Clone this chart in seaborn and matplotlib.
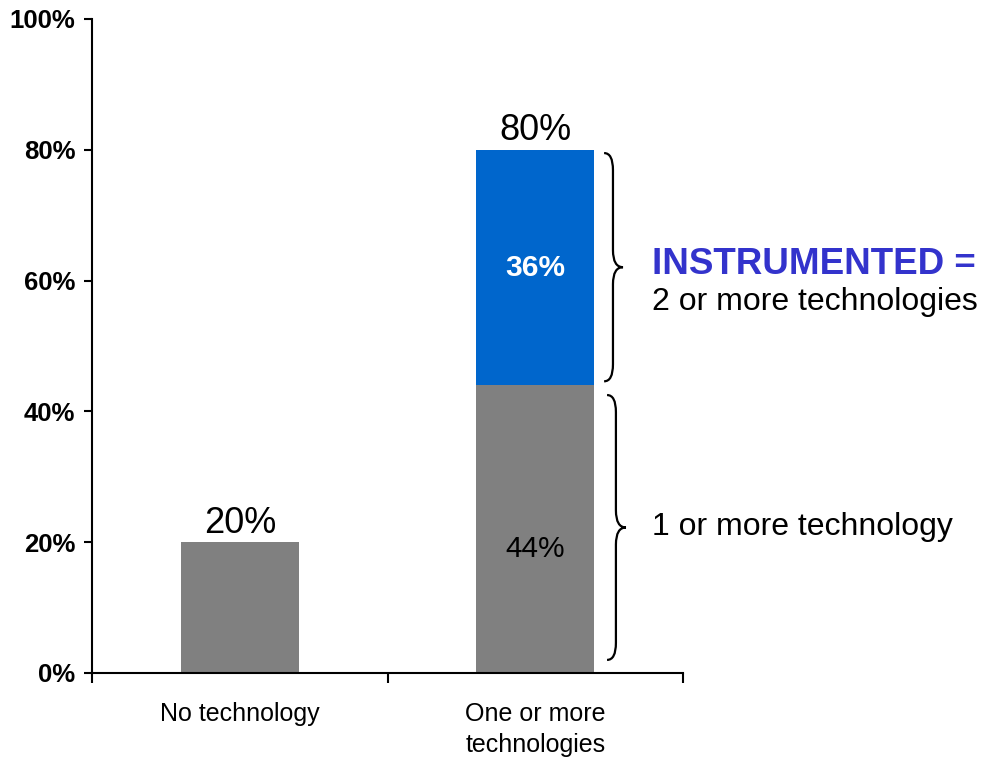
import matplotlib
matplotlib.use("Agg")
import matplotlib.pyplot as plt
from matplotlib.path import Path
from matplotlib.patches import PathPatch
import seaborn as sns

# Share of respondents by number of technologies used (percent)
categories = ["No technology", "One or more\ntechnologies"]
single_share = [20, 44]          # grey segment
instrumented_share = [0, 36]     # blue segment (2 or more technologies)
total_labels = ["20%", "80%"]
yticks = [0, 20, 40, 60, 80, 100]
ytick_labels = ["0%", "20%", "40%", "60%", "80%", "100%"]

GREY = "#808080"
BLUE = "#0066CC"
ACCENT = "#3333CC"

sns.set_style("white")
plt.rcParams["font.family"] = ["Liberation Sans", "DejaVu Sans"]
plt.rcParams["text.color"] = "black"
plt.rcParams["xtick.color"] = "black"
plt.rcParams["ytick.color"] = "black"
plt.rcParams["xtick.labelcolor"] = "black"
plt.rcParams["ytick.labelcolor"] = "black"

totals = [a + b for a, b in zip(single_share, instrumented_share)]

fig = plt.figure(figsize=(9.82, 7.65), dpi=100)
ax = fig.add_axes([92 / 982, 92 / 765, 591 / 982, 654 / 765])

# Stacked bars: full height first, then the lower segment over it
sns.barplot(x=categories, y=totals, hue=categories,
            palette=[GREY, BLUE], legend=False, width=0.4,
            saturation=1, linewidth=0, ax=ax)
sns.barplot(x=categories, y=single_share, color=GREY, width=0.4,
            saturation=1, linewidth=0, ax=ax)

ax.set_xlim(-0.5, 1.5)
ax.set_ylim(0, 100)
ax.set_xlabel("")
ax.set_ylabel("")

# Axes styling
for side in ("top", "right"):
    ax.spines[side].set_visible(False)
for side in ("left", "bottom"):
    ax.spines[side].set_linewidth(1.5)
    ax.spines[side].set_color("black")

ax.set_yticks(yticks, ytick_labels, fontsize=18.5, fontweight="bold")
ax.tick_params(axis="y", direction="out", length=6, width=1.5, pad=6,
               left=True, colors="black")
ax.set_xticks([-0.5, 0.5, 1.5], ["", "", ""])
ax.set_xticks([0, 1], categories, minor=True)
ax.tick_params(axis="x", which="major", direction="out", length=7,
               width=1.5, bottom=True, colors="black")
ax.tick_params(axis="x", which="minor", length=0, pad=21, labelsize=18,
               labelcolor="black")
for lbl in ax.get_xticklabels(minor=True):
    lbl.set_linespacing(1.35)

# Totals above the bars
for i, (t, lab) in enumerate(zip(totals, total_labels)):
    ax.annotate(lab, xy=(i, t), xytext=(0, 1), textcoords="offset points",
                ha="center", va="bottom", fontsize=26, color="black")

# Segment labels inside the second bar
ax.text(1, single_share[1] + instrumented_share[1] / 2, f"{instrumented_share[1]}%",
        ha="center", va="center", fontsize=21.5, fontweight="bold",
        color="white")
ax.text(1, single_share[1] / 2 - 3, f"{single_share[1]}%",
        ha="center", va="center", fontsize=21.5, color="black")


def curly_brace(ax, x0, x1, x2, y_top, y_bot, h):
    """Right-pointing curly brace: ends at x0, spine at x1, tip at x2."""
    y_mid = (y_top + y_bot) / 2
    verts = [
        (x0, y_top),
        (x1, y_top), (x1, y_top - h),
        (x1, y_mid + h),
        (x1, y_mid), (x2, y_mid),
        (x1, y_mid), (x1, y_mid - h),
        (x1, y_bot + h),
        (x1, y_bot), (x0, y_bot),
    ]
    codes = [
        Path.MOVETO,
        Path.CURVE3, Path.CURVE3,
        Path.LINETO,
        Path.CURVE3, Path.CURVE3,
        Path.CURVE3, Path.CURVE3,
        Path.LINETO,
        Path.CURVE3, Path.CURVE3,
    ]
    patch = PathPatch(Path(verts, codes), fill=False, lw=1.6,
                      edgecolor="black", clip_on=False,
                      transform=ax.transData)
    ax.add_patch(patch)


curly_brace(ax, 1.233, 1.263, 1.297, totals[1] - 0.5, single_share[1] + 0.6, 2.6)
curly_brace(ax, 1.243, 1.273, 1.307, single_share[1] - 1.5, 2.0, 2.6)

# Brace annotations
ax.text(1.395, 62.5, "INSTRUMENTED =", ha="left", va="center",
        fontsize=26.5, fontweight="bold", color=ACCENT, clip_on=False)
ax.text(1.395, 56.7, "2 or more technologies", ha="left", va="center",
        fontsize=23, color="black", clip_on=False)
ax.text(1.395, 22.3, "1 or more technology", ha="left", va="center",
        fontsize=23, color="black", clip_on=False)

fig.savefig("out.png", dpi=100)
